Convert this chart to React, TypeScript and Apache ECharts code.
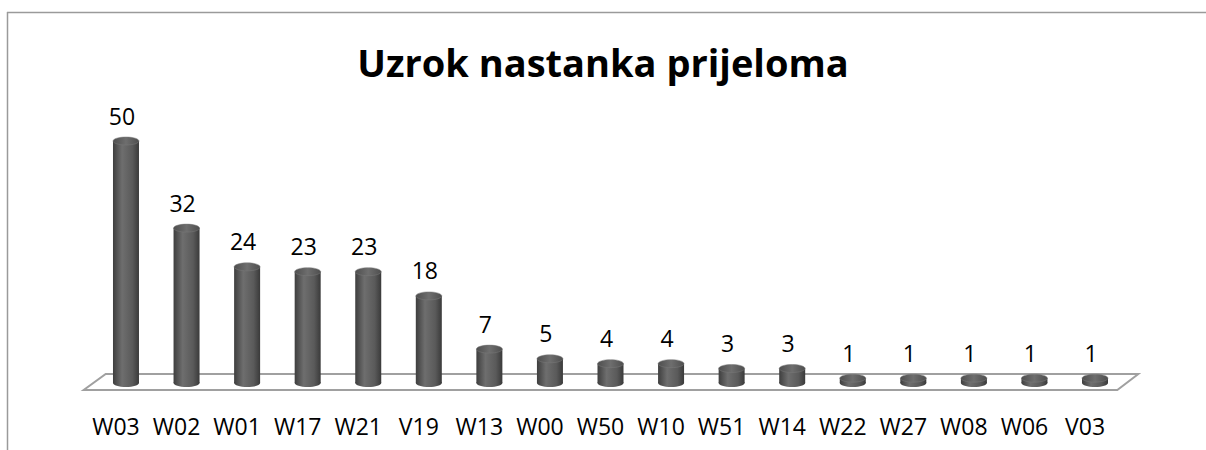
import React, { useEffect, useRef } from "react";
import * as echarts from "echarts";

const categories = ["W03", "W02", "W01", "W17", "W21", "V19", "W13", "W00", "W50", "W10", "W51", "W14", "W22", "W27", "W08", "W06", "V03"];
const values = [50, 32, 24, 23, 23, 18, 7, 5, 4, 4, 3, 3, 1, 1, 1, 1, 1];
const titleText = "Uzrok nastanka prijeloma";

const FONT = "'Open Sans', Lato, sans-serif";
const DX = 10; // depth offset of the cylinders
const BAR_W = 26;
const RY = 4;

export default function App() {
  const ref = useRef<HTMLDivElement>(null);
  useEffect(() => {
    if (!ref.current) return;
    const chart = echarts.init(ref.current, undefined, { renderer: "svg" });
    const bodyGrad = () =>
      new echarts.graphic.LinearGradient(0, 0, 1, 0, [
        { offset: 0, color: "#3e3e3e" },
        { offset: 0.35, color: "#6e6e6e" },
        { offset: 0.75, color: "#5a5a5a" },
        { offset: 1, color: "#3a3a3a" },
      ]);
    const topGrad = () =>
      new echarts.graphic.LinearGradient(0, 0, 1, 0, [
        { offset: 0, color: "#4e4e4e" },
        { offset: 0.5, color: "#6e6e6e" },
        { offset: 1, color: "#4e4e4e" },
      ]);
    chart.setOption({
      animation: false,
      backgroundColor: "#ffffff",
      title: {
        text: titleText,
        left: "center",
        top: 38,
        textStyle: { fontFamily: FONT, fontSize: 38, fontWeight: "bold", color: "#000" },
      },
      graphic: [
        { type: "line", shape: { x1: 7, y1: 12.5, x2: 1206, y2: 12.5 }, style: { stroke: "#9a9a9a", lineWidth: 1.5 } },
        { type: "line", shape: { x1: 7.5, y1: 12, x2: 7.5, y2: 450 }, style: { stroke: "#9a9a9a", lineWidth: 1.5 } },
      ],
      grid: { left: 85.7, right: 90.7, bottom: 67, top: 92.6, containLabel: false },
      xAxis: {
        type: "category",
        data: categories,
        axisLine: { show: false },
        axisTick: { show: false },
        axisLabel: { margin: 31, fontFamily: FONT, fontSize: 23, color: "#000", interval: 0 },
      },
      yAxis: { type: "value", min: 0, max: 60, show: false, splitLine: { show: false } },
      series: [
        {
          type: "custom",
          z: 1,
          data: [[0, 0]],
          renderItem: (params: any, api: any) => {
            const cs = params.coordSys;
            const y0 = cs.y + cs.height;
            return {
              type: "polygon",
              shape: {
                points: [
                  [cs.x - 2, y0 + 7],
                  [cs.x + cs.width + 2, y0 + 7],
                  [cs.x + cs.width + 23, y0 - 9],
                  [cs.x + 20, y0 - 9],
                ],
              },
              style: { fill: "#ffffff", stroke: "#a0a0a0", lineWidth: 2 },
            };
          },
        },
        {
          type: "custom",
          z: 2,
          data: values.map((v, i) => [i, v]),
          encode: { x: 0, y: 1 },
          renderItem: (params: any, api: any) => {
            const c0 = api.coord([api.value(0), 0]);
            const c1 = api.coord([api.value(0), api.value(1)]);
            const bx = c0[0] + DX;
            const y0 = c0[1];
            const y1 = c1[1];
            return {
              type: "group",
              children: [
                {
                  type: "ellipse",
                  shape: { cx: bx, cy: y0, rx: BAR_W / 2, ry: RY },
                  style: { fill: bodyGrad() },
                },
                {
                  type: "rect",
                  shape: { x: bx - BAR_W / 2, y: y1, width: BAR_W, height: y0 - y1 },
                  style: { fill: bodyGrad() },
                },
                {
                  type: "ellipse",
                  shape: { cx: bx, cy: y1, rx: BAR_W / 2, ry: RY },
                  style: { fill: topGrad(), stroke: "#7a7a7a", lineWidth: 0.5 },
                },
                {
                  type: "text",
                  x: bx - 4,
                  y: y1 - 14,
                  style: {
                    text: String(api.value(1)),
                    fontFamily: FONT,
                    fontSize: 23,
                    fill: "#000",
                    align: "center",
                    verticalAlign: "bottom",
                  },
                },
              ],
            };
          },
        },
      ],
    });
    return () => chart.dispose();
  }, []);
  return <div ref={ref} style={{ position: "absolute", left: 0, top: 0, width: 1206, height: 450 }} />;
}
